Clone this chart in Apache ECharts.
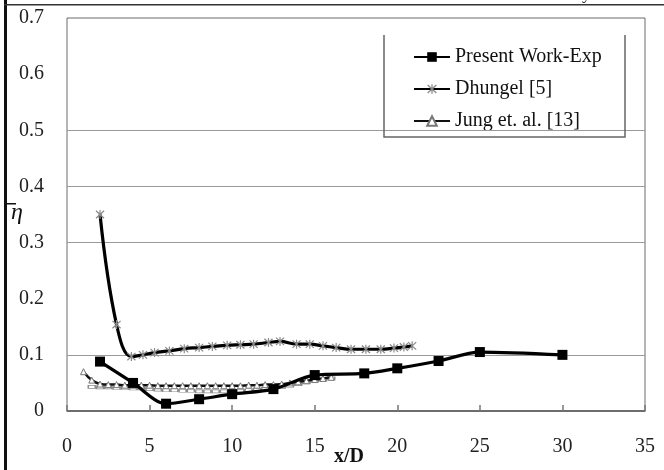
<!DOCTYPE html>
<html>
<head>
<meta charset="utf-8">
<script src="https://cdn.jsdelivr.net/npm/echarts@6/dist/echarts.min.js"></script>
<style>
  html, body { margin: 0; padding: 0; background: #ffffff; }
  #chart { width: 664px; height: 470px; }
</style>
</head>
<body>
<div id="chart"></div>
<script>
// Film cooling effectiveness (laterally averaged) versus x/D

const presentX = [2, 4, 6, 8, 10, 12.5, 15, 18, 20, 22.5, 25, 30];
const presentY = [0.088, 0.05, 0.013, 0.021, 0.03, 0.039, 0.064, 0.067, 0.076, 0.089, 0.105, 0.100];

const dhungelX = [2, 3, 3.9, 4.6, 5.3, 6.2, 7.1, 8.0, 8.8, 9.7, 10.5, 11.3, 12.2, 12.9, 13.9, 14.7, 15.5, 16.3, 17.2, 18.1, 19.0, 19.8, 20.4, 20.9];
const dhungelY = [0.35, 0.154, 0.097, 0.100, 0.104, 0.107, 0.111, 0.113, 0.115, 0.117, 0.118, 0.119, 0.122, 0.124, 0.119, 0.119, 0.116, 0.113, 0.110, 0.110, 0.110, 0.112, 0.114, 0.116];

const jungX = [1, 1.5, 2, 2.5, 3, 3.5, 4, 4.5, 5, 5.5, 6, 6.5, 7, 7.5, 8, 8.5, 9, 9.5, 10, 10.5, 11, 11.5, 12, 12.5, 13, 13.5, 14, 14.5, 15, 15.5, 16];
const jungY = [0.070, 0.055, 0.048, 0.047, 0.047, 0.046, 0.046, 0.046, 0.046, 0.045, 0.045, 0.045, 0.045, 0.045, 0.045, 0.045, 0.045, 0.045, 0.045, 0.045, 0.046, 0.046, 0.047, 0.047, 0.048, 0.050, 0.052, 0.054, 0.056, 0.058, 0.060];

const jung2X = [1.5, 2, 2.5, 3, 3.5, 4, 4.5, 5, 5.5, 6, 6.5, 7, 7.5, 8, 8.5, 9, 9.5, 10, 10.5, 11, 11.5, 12, 12.5, 13, 13.5, 14, 14.5, 15, 15.5, 16];
const jung2Y = [0.043, 0.042, 0.042, 0.041, 0.041, 0.040, 0.040, 0.039, 0.038, 0.037, 0.037, 0.036, 0.036, 0.035, 0.035, 0.035, 0.035, 0.035, 0.036, 0.037, 0.038, 0.039, 0.041, 0.043, 0.045, 0.048, 0.051, 0.054, 0.056, 0.058];

const seriesNames = ['Present Work-Exp', 'Dhungel [5]', 'Jung et. al. [13]'];
const gridValues = [0.1, 0.3, 0.4, 0.5];

const xMin = 0, xMax = 35, xStep = 5;
const yMin = 0, yMax = 0.7, yStep = 0.1;

const pairs = (xs, ys) => xs.map((x, i) => [x, ys[i]]);

// asterisk marker: vertical stroke plus two diagonals
const asterisk = 'path://M4.4,0L5.6,0L5.6,10L4.4,10Z' +
  'M0.4,1.3L1.3,0.4L9.6,8.7L8.7,9.6Z' +
  'M8.7,0.4L9.6,1.3L1.3,9.6L0.4,8.7Z';

const serif = '"Liberation Serif", "DejaVu Serif", serif';

const chart = echarts.init(document.getElementById('chart'), null, { renderer: 'canvas' });

chart.setOption({
  backgroundColor: '#ffffff',
  animation: false,
  grid: {
    left: 67, right: 19, top: 18, bottom: 59,
    show: true, borderColor: '#6a6a6a', borderWidth: 1, backgroundColor: 'transparent'
  },
  legend: {
    data: seriesNames,
    orient: 'vertical',
    left: 408,
    top: 42,
    itemWidth: 36,
    itemHeight: 12,
    itemGap: 12,
    textStyle: { fontFamily: serif, fontSize: 20, color: '#111' }
  },
  xAxis: {
    type: 'value',
    min: xMin, max: xMax, interval: xStep,
    axisLine: { show: true, lineStyle: { color: '#555', width: 1.5 } },
    axisTick: { show: true, inside: true, length: 6, lineStyle: { color: '#777', width: 1.5 } },
    axisLabel: { margin: 26, fontFamily: serif, fontSize: 20, color: '#222' },
    splitLine: { show: false }
  },
  yAxis: {
    type: 'value',
    min: yMin, max: yMax, interval: yStep,
    axisLine: { show: false },
    axisTick: { show: false },
    axisLabel: { margin: 23, fontFamily: serif, fontSize: 20, color: '#222' },
    splitLine: { show: false }
  },
  series: [
    {
      name: 'gridlines',
      type: 'line',
      data: [],
      z: 1,
      silent: true,
      markLine: {
        silent: true,
        symbol: 'none',
        label: { show: false },
        lineStyle: { color: '#9a9a9a', width: 1.2, type: 'solid' },
        data: gridValues.map(v => ({ yAxis: v }))
      }
    },
    {
      name: 'Jung lower',
      type: 'line',
      data: pairs(jung2X, jung2Y),
      smooth: 0.4,
      symbol: 'rect',
      symbolSize: [7, 3],
      lineStyle: { color: '#8c8c8c', width: 1.5 },
      itemStyle: { color: '#ffffff', borderColor: '#8c8c8c', borderWidth: 1 },
      z: 3
    },
    {
      name: seriesNames[2],
      type: 'line',
      data: pairs(jungX, jungY),
      smooth: 0.4,
      symbol: 'triangle',
      symbolSize: 6,
      lineStyle: { color: '#111', width: 2.5 },
      itemStyle: { color: '#ffffff', borderColor: '#777', borderWidth: 1 },
      z: 4
    },
    {
      name: seriesNames[1],
      type: 'line',
      data: pairs(dhungelX, dhungelY),
      smooth: 0.4,
      symbol: asterisk,
      symbolSize: 9,
      lineStyle: { color: '#000', width: 3.2 },
      itemStyle: { color: '#8a8a8a', borderWidth: 0 },
      z: 5
    },
    {
      name: seriesNames[0],
      type: 'line',
      data: pairs(presentX, presentY),
      smooth: 0.3,
      symbol: 'rect',
      symbolSize: 10,
      lineStyle: { color: '#000', width: 3.2 },
      itemStyle: { color: '#000' },
      z: 6
    }
  ],
  graphic: [
    // page frame: thick left rule and thin top rule
    { type: 'rect', left: 4, top: 0, shape: { width: 3, height: 470 }, style: { fill: '#111' }, z: 100 },
    { type: 'rect', left: 4, top: 4, shape: { width: 660, height: 1.5 }, style: { fill: '#333' }, z: 100 },
    { type: 'text', left: 582, top: -15, style: { text: 'y', font: '18px ' + serif, fill: '#333' }, z: 100 },
    // legend frame (open at the top)
    {
      type: 'polyline', z: 50,
      shape: { points: [[384, 35], [384, 137], [625, 137], [625, 35]] },
      style: { stroke: '#666', lineWidth: 1.5, fill: 'none' }
    },
    // axis titles
    { type: 'rect', left: 5, top: 203, shape: { width: 11, height: 1.5 }, style: { fill: '#111' }, z: 100 },
    { type: 'text', left: 11, top: 201, style: { text: 'η', font: 'italic 24px ' + serif, fill: '#111' }, z: 100 },
    { type: 'text', left: 334, top: 447, style: { text: 'x/D', font: 'bold 20px ' + serif, fill: '#111' }, z: 100 }
  ]
});
</script>
</body>
</html>
